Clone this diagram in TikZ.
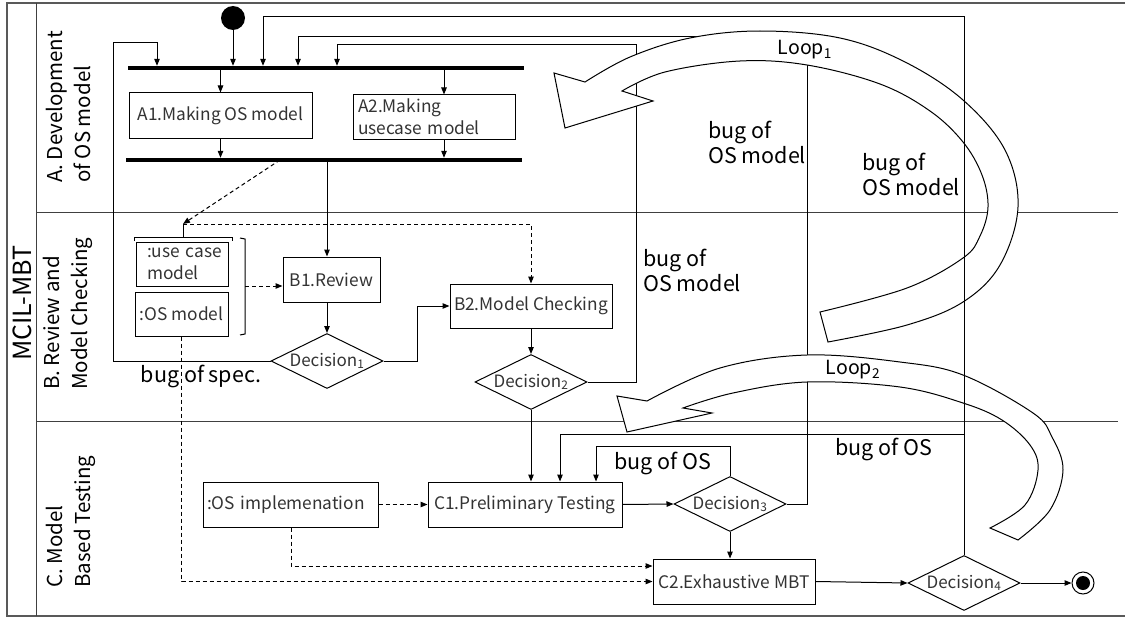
\documentclass[tikz,border=0pt]{standalone}
\usepackage{fontspec}
\setmainfont{Noto Sans CJK JP}
\usetikzlibrary{arrows.meta,shapes.geometric,calc}
\begin{document}
\begin{tikzpicture}[x=1pt,y=-1pt,
  box/.style={draw, line width=1pt, inner sep=0pt, text=black!80, font=\fontsize{17.3}{22}\selectfont},
  dec/.style={draw, diamond, aspect=2, line width=1pt, inner sep=0pt, minimum width=112pt, minimum height=55pt, text=black!80, font=\fontsize{17}{22}\selectfont},
  bar/.style={fill=black, inner sep=0pt, minimum height=4pt},
  startnode/.style={circle, fill=black, inner sep=0pt, minimum size=24pt},
  endnode/.style={circle, draw, line width=1pt, inner sep=0pt, minimum size=22pt, path picture={\fill (path picture bounding box.center) circle (7pt);}},
  arr/.style={line width=1pt, -{Triangle[length=7pt,width=5.5pt]}},
  darr/.style={line width=1pt, dash pattern=on 4pt off 3pt, -{Triangle[length=7pt,width=5.5pt]}},
  lbl/.style={inner sep=0pt, align=left, font=\fontsize{21.5}{25}\selectfont},
  looplbl/.style={inner sep=0pt, font=\fontsize{19.5}{24}\selectfont},
  ttl/.style={inner sep=0pt, rotate=90, align=left, font=\fontsize{20.5}{28}\selectfont},
  loopshape/.style={draw, fill=white, line width=1pt, line join=miter}
]
\useasboundingbox (0,0) rectangle (1125,618);
\clip (0,0) rectangle (1125,618);
% frame and lanes
\draw[line width=2pt, black!65] (7,3) rectangle (1140,616);
\draw[line width=1pt, black!75] (36,3) -- (36,616);
\draw[line width=1pt, black!75] (36,212) -- (1118,212);
\draw[line width=1pt, black!75] (36,421) -- (1118,421);
% titles
\node[inner sep=0pt, rotate=90, font=\fontsize{25}{30}\selectfont] (tM) at (22,303) {MCIL-MBT};
\node[ttl, anchor=north west] (tA) at (46,183) {A. Development\\of OS model};
\node[ttl, anchor=north west] (tB) at (43,390) {B. Review and\\Model Checking};
\node[ttl, anchor=north west] (tC) at (46,588) {C. Model\\Based Testing};
% nodes
\node[startnode] (start) at (233,18) {};
\node[bar, minimum width=396pt] (fork) at (326,68) {};
\node[bar, minimum width=396pt] (join) at (324,160) {};
\node[box, minimum width=183pt, minimum height=45pt] (A1) at (220.5,115.5) {A1.Making OS model};
\node[box, minimum height=44pt, text width=152pt, inner xsep=5pt, align=left] (A2) at (434,117) {A2.Making\\usecase model};
\node[box, minimum width=97pt, minimum height=45pt] (B1) at (331.5,279.5) {B1.Review};
\node[box, minimum width=162pt, minimum height=44pt] (B2) at (531,306) {B2.Model Checking};
\node[box, minimum width=194pt, minimum height=45pt] (C1) at (525,504.5) {C1.Preliminary Testing};
\node[box, minimum width=162pt, minimum height=45pt] (C2) at (734,581.5) {C2.Exhaustive MBT};
\node[box, minimum height=44pt, text width=80pt, inner xsep=6pt, align=left] (UC) at (182,264) {\hspace*{5pt}:use case\\\hspace*{5pt}model};
\node[box, minimum width=93pt, minimum height=44pt] (OSM) at (181.5,314) {:OS model};
\node[box, minimum height=45pt, text width=167pt, inner xsep=4pt, align=left] (OSI) at (290.5,504.5) {:OS implemenation};
\node[dec] (D1) at (327,361) {Decision\textsubscript{1}};
\node[dec] (D2) at (531,382) {Decision\textsubscript{2}};
\node[dec] (D3) at (730,504) {Decision\textsubscript{3}};
\node[dec] (D4) at (964,583) {Decision\textsubscript{4}};
\node[endnode] (end) at (1083,583) {};
% labels
\node[lbl, anchor=west] (l1) at (643,270) {bug of\\OS model};
\node[lbl, anchor=west] (l2) at (708,142) {bug of\\OS model};
\node[lbl, anchor=west] (l3) at (862,174) {bug of\\OS model};
\node[lbl] (l4) at (201,376) {bug of spec.};
\node[lbl] (l5) at (663,463) {bug of OS};
\node[lbl] (l6) at (884,449) {bug of OS};
% helper coordinates
\coordinate (xA2) at (444,0);
\coordinate (k1) at (113,43);
\coordinate (k1b) at (157,43);
\coordinate (k2) at (417,0);
\coordinate (k3) at (636,45);
\coordinate (k3b) at (337,45);
\coordinate (k4) at (596,446);
\coordinate (k5) at (807,37);
\coordinate (k5b) at (298,37);
\coordinate (k6) at (964,17);
\coordinate (k6b) at (263,17);
\coordinate (k7) at (964,434);
\coordinate (k7b) at (560,434);
\coordinate (g1) at (280,160);
\coordinate (brTop) at (183,224);
\coordinate (brR) at (245,286);
\coordinate (xOSI) at (291,566);
% solid connectors
\draw[arr] (start) -- (start |- fork.north);
\draw[arr] (A1.north |- fork.south) -- (A1.north);
\draw[arr] (xA2 |- fork.south) -- (xA2 |- A2.north);
\draw[arr] (A1.south) -- (A1.south |- join.north);
\draw[arr] (xA2 |- A2.south) -- (xA2 |- join.north);
\draw[arr] (D1 |- join.south) -- (D1 |- B1.north);
\draw[arr] (D1 |- B1.south) -- (D1.north);
\draw[arr] (D1.west) -| (k1) -- (k1b) -- (k1b |- fork.north);
\draw[arr] (D1.east) -| (k2 |- B2.west) -- (B2.west);
\draw[arr] (B2.south) -- (D2.north);
\draw[arr] (D2.east) -| (k3) -- (k3b) -- (k3b |- fork.north);
\draw[arr] (D2.south) -- (D2.south |- C1.north);
\draw[arr] (C1.east) -- (D3.west);
\draw[arr] (D3.north) |- (k4) -- (k4 |- C1.north);
\draw[arr] (D3.east) -| (k5) -- (k5b) -- (k5b |- fork.north);
\draw[arr] (D3.south) -- (D3.south |- C2.north);
\draw[arr] (C2.east) -- (D4.west);
\draw[arr] (D4.east) -- (end.west);
% object brackets
\draw[line width=1pt] (134,241) -- (134,237) -- (232,237) -- (232,241);
\draw[line width=1pt] (183,237) -- (brTop);
\draw[line width=1pt] (240,238) -- (245,239) -- (245,334) -- (240,335);
% dashed connectors
\draw[darr] (g1) -- (brTop);
\draw[darr] (brTop) -| (B2.north);
\draw[darr] (brR) -- (brR -| B1.west);
\draw[darr] (OSM.south) |- (C2.west);
\draw[darr] (OSI.east) -- (C1.west);
\draw[darr] (xOSI |- OSI.south) -- (xOSI) -- (xOSI -| C2.west);
% loop arrows
\draw[loopshape] (585,82) -- (554,73) -- (565,128) -- (653,101) -- (622,91)
  -- plot[smooth, tension=0.6] coordinates {(622,91) (665,72) (740,61) (807,65) (880,84) (930,111) (963,142) (982,175) (988,207) (980,236) (963,258) (907,288) (820,312)}
  -- (828,342)
  -- plot[smooth, tension=0.6] coordinates {(828,342) (907,325) (963,302) (1000,265) (1018,207) (1005,150) (963,100) (905,62) (840,38) (760,31) (690,38) (630,57) (585,82)}
  -- cycle;
\draw[loopshape] (647,401) -- (617,396) -- (627,432) -- (712,413) -- (683,408)
  -- plot[smooth, tension=0.6] coordinates {(683,408) (733,393) (807,382) (900,387) (963,403) (1002,420) (1030,445) (1038,470) (1025,505) (990,528)}
  -- (1018,540)
  -- plot[smooth, tension=0.6] coordinates {(1018,540) (1050,510) (1063,470) (1052,437) (1033,413) (963,375) (900,362) (807,355) (720,368) (647,401)}
  -- cycle;
\node[looplbl] (L1) at (805,50) {Loop\textsubscript{1}};
\node[looplbl] (L2) at (853,370) {Loop\textsubscript{2}};
% lines drawn over the loops
\draw[arr] (D4.north) -- (k6) -- (k6b) -- (k6b |- fork.north);
\draw[arr] (k7) -- (k7b) -- (k7b |- C1.north);
\end{tikzpicture}
\end{document}
